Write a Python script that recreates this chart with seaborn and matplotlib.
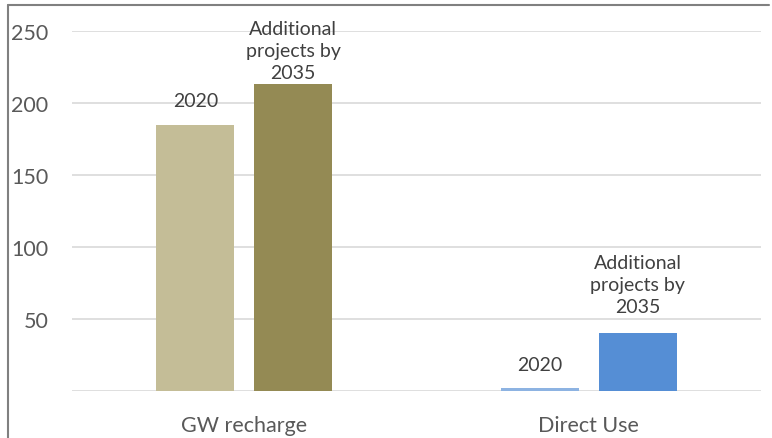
import matplotlib
matplotlib.use("Agg")
import matplotlib.pyplot as plt
from matplotlib.lines import Line2D
import pandas as pd
import seaborn as sns

# Chart data
categories = ["GW recharge", "Direct Use"]
series = ["2020", "Additional projects by 2035"]
series_labels = ["2020", "Additional\nprojects by\n2035"]
values_2020 = [185, 2]
values_additional = [213, 40]
y_ticks = [50, 100, 150, 200, 250]

# Bar colours: one per (series, category)
bar_colors = {
    ("2020", "GW recharge"): "#c4bd97",
    ("Additional projects by 2035", "GW recharge"): "#948a54",
    ("2020", "Direct Use"): "#8db3e2",
    ("Additional projects by 2035", "Direct Use"): "#558ed5",
}
# Vertical offset (points) of each bar's label centre above the bar top
label_offsets = {
    ("2020", "GW recharge"): 17.3,
    ("Additional projects by 2035", "GW recharge"): 24.5,
    ("2020", "Direct Use"): 17.3,
    ("Additional projects by 2035", "Direct Use"): 35.3,
}

df = pd.DataFrame({
    "category": categories * 2,
    "series": [series[0]] * len(categories) + [series[1]] * len(categories),
    "value": values_2020 + values_additional,
})

sns.set_theme(style="white")
plt.rcParams["font.family"] = ["Lato", "DejaVu Sans"]

fig = plt.figure(figsize=(7.72, 4.39), dpi=100)
ax = fig.add_axes([72 / 772, (439 - 392) / 439, (761 - 72) / 772, (392 - 32) / 439])

sns.barplot(data=df, x="category", y="value", hue="series", order=categories,
            hue_order=series, width=0.568, gap=0.203, legend=False, ax=ax,
            palette=["#c4bd97", "#948a54"], saturation=1)

for s, label, container in zip(series, series_labels, ax.containers):
    for cat, bar in zip(categories, container):
        bar.set_facecolor(bar_colors[(s, cat)])
        bar.set_edgecolor("none")
        ax.annotate(label, xy=(bar.get_x() + bar.get_width() / 2, bar.get_height()),
                    xytext=(0, label_offsets[(s, cat)]), textcoords="offset points",
                    ha="center", va="center", fontsize=14, color="#404040",
                    linespacing=1.35, annotation_clip=False)

ax.set_ylim(0, 250)
ax.set_xlim(-0.5, 1.5)
ax.set_yticks(y_ticks)
ax.yaxis.grid(True, color="#d9d9d9", linewidth=1.2)
ax.set_axisbelow(True)
ax.axhline(0, color="#d9d9d9", linewidth=1.2, zorder=0.5)
for sp in ax.spines.values():
    sp.set_visible(False)
ax.tick_params(axis="y", length=0, pad=17, labelsize=15.5, labelcolor="#595959")
ax.tick_params(axis="x", length=0, pad=17.5, labelsize=15.5, labelcolor="#595959")
ax.set_xlabel("")
ax.set_ylabel("")

# Chart frame (top and left edges)
fig.add_artist(Line2D([8 / 772, 769 / 772], [1 - 6 / 439, 1 - 6 / 439],
                      color="#808080", linewidth=1.5, transform=fig.transFigure))
fig.add_artist(Line2D([8 / 772, 8 / 772], [0, 1 - 6 / 439],
                      color="#808080", linewidth=1.5, transform=fig.transFigure))

fig.savefig("out.png", dpi=100)
